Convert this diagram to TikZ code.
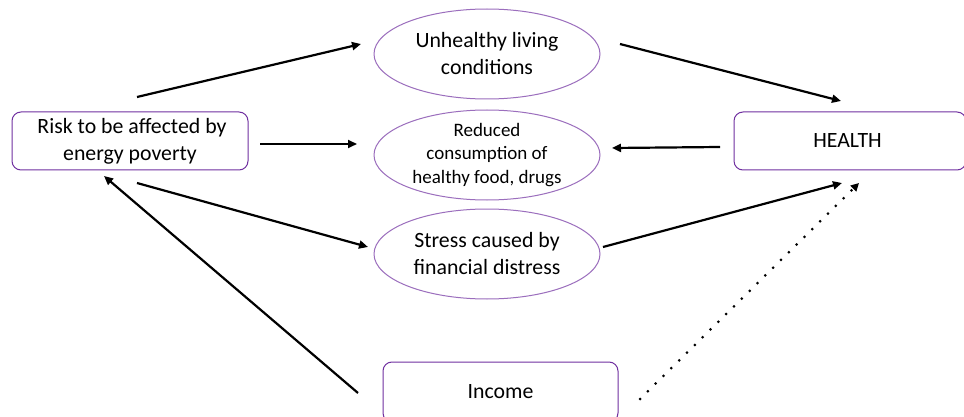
\documentclass[tikz,border=0pt]{standalone}
\usepackage{fontspec}
\setmainfont{Carlito}
\usetikzlibrary{shapes.geometric,arrows.meta}
\definecolor{boxpurple}{RGB}{112,48,160}
\tikzset{
  rbox/.style={draw=boxpurple, line width=1pt, rounded corners=9pt, align=center, inner sep=0pt},
  oval/.style={draw=boxpurple!70, line width=1pt, ellipse, minimum width=226pt, minimum height=90pt, inner sep=0pt, align=center},
  mainfont/.style={font=\fontsize{21.8}{27}\selectfont},
  smallfont/.style={font=\fontsize{19}{23.5}\selectfont},
  conn/.style={line width=2.2pt, -{Triangle[length=9pt,width=8pt]}},
  dotconn/.style={line width=3pt, dash pattern=on 0pt off 11pt, line cap=round, -{Triangle[length=8pt,width=8pt]}}
}
\begin{document}
\begin{tikzpicture}[x=1pt,y=-1pt]
\clip (0,0) rectangle (964,417);
\fill[white] (0,0) rectangle (964,417);
% nodes
\node[rbox, mainfont, minimum width=236pt, minimum height=58pt] (risk) at (130,141) {\hspace*{4pt}Risk to be affected by\\energy poverty};
\node[rbox, mainfont, minimum width=232pt, minimum height=58pt] (health) at (850,141) {\hspace*{-5pt}HEALTH};
\node[rbox, mainfont, minimum width=235pt, minimum height=60pt] (income) at (500.5,392) {Income};
\node[oval, mainfont] (unh) at (487,54) {Unhealthy living\\conditions};
\node[oval, smallfont] (red) at (487,155) {Reduced\\consumption of\\healthy food, drugs};
\node[oval, mainfont] (str) at (487,254) {Stress caused by\\financial distress};
% connector end points
\coordinate (r1) at (137,97);   \coordinate (u1) at (361,44);
\coordinate (u2) at (620,44);   \coordinate (h1) at (841,101);
\coordinate (r2) at (260,144);  \coordinate (d1) at (357,144);
\coordinate (h2) at (720,147);  \coordinate (d2) at (612,148);
\coordinate (r3) at (137,183);  \coordinate (s1) at (368,247);
\coordinate (s2) at (603,247);  \coordinate (h3) at (842,183);
\coordinate (i1) at (358,393);  \coordinate (r4) at (104,176);
\coordinate (i2) at (640,399);  \coordinate (h4) at (859,183);
% connectors
\draw[conn] (r1) -- (u1);
\draw[conn] (u2) -- (h1);
\draw[conn] (r2) -- (d1);
\draw[conn] (h2) -- (d2);
\draw[conn] (r3) -- (s1);
\draw[conn] (s2) -- (h3);
\draw[conn] (i1) -- (r4);
\draw[dotconn] (i2) -- (h4);
\end{tikzpicture}
\end{document}
